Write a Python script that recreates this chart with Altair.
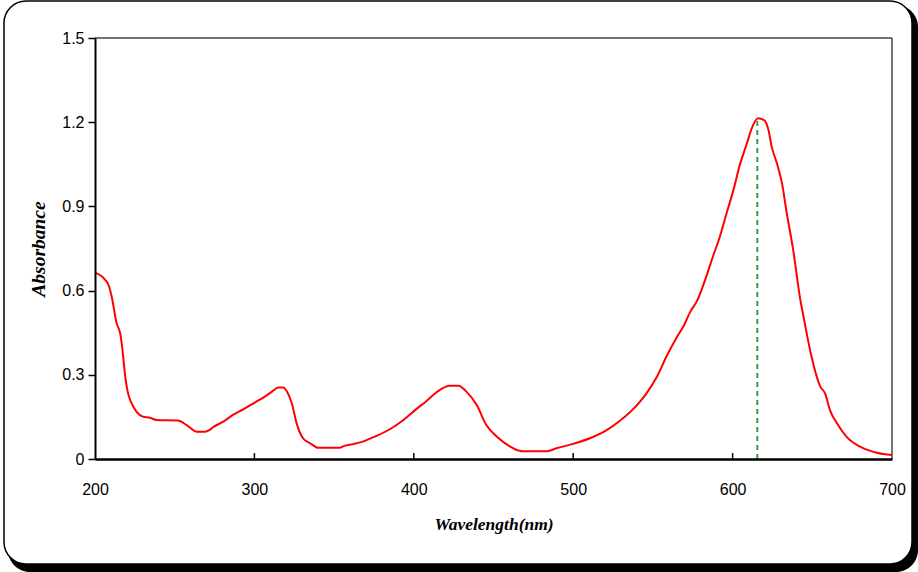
import altair as alt
import pandas as pd

# Absorption spectrum
wavelength = [200, 206, 208.5, 210.5, 213.5, 216, 217, 219, 220.5, 223, 226, 230, 234.5, 238.5,
              252, 257.5, 264, 269, 272, 274, 280.5, 287, 293, 300.5, 306.5, 311, 315, 318, 320.5,
              323.5, 326.5, 330.5, 335, 340, 353.5, 356, 362, 368, 376.5, 385, 393.5, 401, 408,
              415.5, 422.5, 428, 433, 439.5, 445.5, 452, 460.5, 467.5, 483.5, 489.5, 500, 510.5,
              521, 529.5, 540, 546, 552.5, 558.5, 565, 569, 573.5, 578, 582, 588, 592, 596.5,
              600.5, 604.5, 609, 612, 616, 619.5, 622.5, 624.5, 627.5, 631, 634, 638, 642.5,
              644.5, 649.5, 655, 658, 661, 665.5, 671.5, 680, 690.5, 700]
absorbance = [0.664, 0.641, 0.62, 0.578, 0.485, 0.442, 0.40, 0.293, 0.24, 0.198, 0.169, 0.151,
              0.147, 0.139, 0.137, 0.121, 0.097, 0.097, 0.104, 0.113, 0.133, 0.159, 0.177, 0.202,
              0.222, 0.24, 0.255, 0.255, 0.24, 0.198, 0.127, 0.074, 0.056, 0.040, 0.040, 0.046,
              0.053, 0.062, 0.082, 0.106, 0.139, 0.175, 0.207, 0.243, 0.261, 0.261, 0.24, 0.192,
              0.121, 0.08, 0.044, 0.028, 0.028, 0.038, 0.054, 0.074, 0.103, 0.137, 0.192, 0.234,
              0.293, 0.365, 0.434, 0.471, 0.525, 0.567, 0.626, 0.727, 0.792, 0.881, 0.958, 1.047,
              1.125, 1.178, 1.214, 1.208, 1.172, 1.113, 1.059, 0.982, 0.875, 0.745, 0.567, 0.507,
              0.365, 0.258, 0.234, 0.175, 0.127, 0.079, 0.044, 0.022, 0.014]

peak_wavelength = [615.5]
peak_absorbance = [1.21]

x_ticks = [200, 300, 400, 500, 600, 700]
x_inner_ticks = [300, 400, 500, 600]
y_ticks = [0, 0.3, 0.6, 0.9, 1.2, 1.5]

W, H = 797, 421

spec_df = pd.DataFrame({"wl": wavelength, "abs": absorbance})
peak_df = pd.DataFrame({"wl": peak_wavelength, "abs": peak_absorbance, "zero": [0.0]})
tick_df = pd.DataFrame({"wl": x_inner_ticks})

x_scale = alt.Scale(domain=[200, 700], nice=False, zero=False)
y_scale = alt.Scale(domain=[0, 1.5], nice=False)

x_axis = alt.Axis(
    values=x_ticks, format="d", title="Wavelength(nm)", ticks=False, tickSize=0,
    labelPadding=22, labelFlush=False, domainColor="black", domainWidth=2.5, grid=False,
    labelFont="Liberation Sans", labelFontSize=16, labelColor="black",
    titleFont="Liberation Serif", titleFontSize=17.5, titleFontWeight="bold",
    titleFontStyle="italic", titleColor="black", titlePadding=18, zindex=1,
)
y_axis = alt.Axis(
    values=y_ticks, labelExpr="datum.value == 0 ? '0' : format(datum.value, '.1f')",
    title="Absorbance", tickSize=7, tickColor="black", tickWidth=1.5, labelPadding=4,
    labelFlush=False, domainColor="black", domainWidth=2, grid=False,
    labelFont="Liberation Sans", labelFontSize=16, labelColor="black",
    titleFont="Liberation Serif", titleFontSize=19.5, titleFontWeight="bold",
    titleFontStyle="italic", titleColor="black", titlePadding=13, zindex=1,
)

# decorative rounded frame with shadow
shadow = alt.Chart(pd.DataFrame({"a": [0]})).mark_rect(
    color="black", cornerRadius=22
).encode(x=alt.value(-87), x2=alt.value(823), y=alt.value(-33), y2=alt.value(534))
frame = alt.Chart(pd.DataFrame({"a": [0]})).mark_rect(
    fill="white", stroke="black", strokeWidth=1.5, cornerRadius=22
).encode(x=alt.value(-91), x2=alt.value(817), y=alt.value(-37), y2=alt.value(526))

top_border = alt.Chart(pd.DataFrame({"a": [0]})).mark_rule(color="#444", strokeWidth=1.5).encode(
    x=alt.value(0), x2=alt.value(W), y=alt.value(0))
right_border = alt.Chart(pd.DataFrame({"a": [0]})).mark_rule(color="#444", strokeWidth=1.5).encode(
    x=alt.value(W), y=alt.value(0), y2=alt.value(H))

line = alt.Chart(spec_df).mark_line(color="#FF0000", strokeWidth=2, interpolate="monotone").encode(
    x=alt.X("wl:Q", scale=x_scale, axis=x_axis),
    y=alt.Y("abs:Q", scale=y_scale, axis=y_axis),
)

peak = alt.Chart(peak_df).mark_rule(color="#3A9A44", strokeWidth=2, strokeDash=[5, 4]).encode(
    x=alt.X("wl:Q", scale=x_scale),
    y=alt.Y("zero:Q", scale=y_scale),
    y2="abs:Q",
)

ticks = alt.Chart(tick_df).mark_rule(color="black", strokeWidth=1.5).encode(
    x=alt.X("wl:Q", scale=x_scale),
    y=alt.value(H),
    y2=alt.value(H - 6),
)

chart = alt.layer(shadow, frame, top_border, right_border, peak, line, ticks).properties(
    width=W, height=H,
    padding={"left": 95, "top": 38, "right": 26, "bottom": 113},
    autosize=alt.AutoSizeParams(type="none"),
    background="white",
).configure_view(stroke=None)

chart.save("out.html", embed_options={"renderer": "svg", "actions": False})
